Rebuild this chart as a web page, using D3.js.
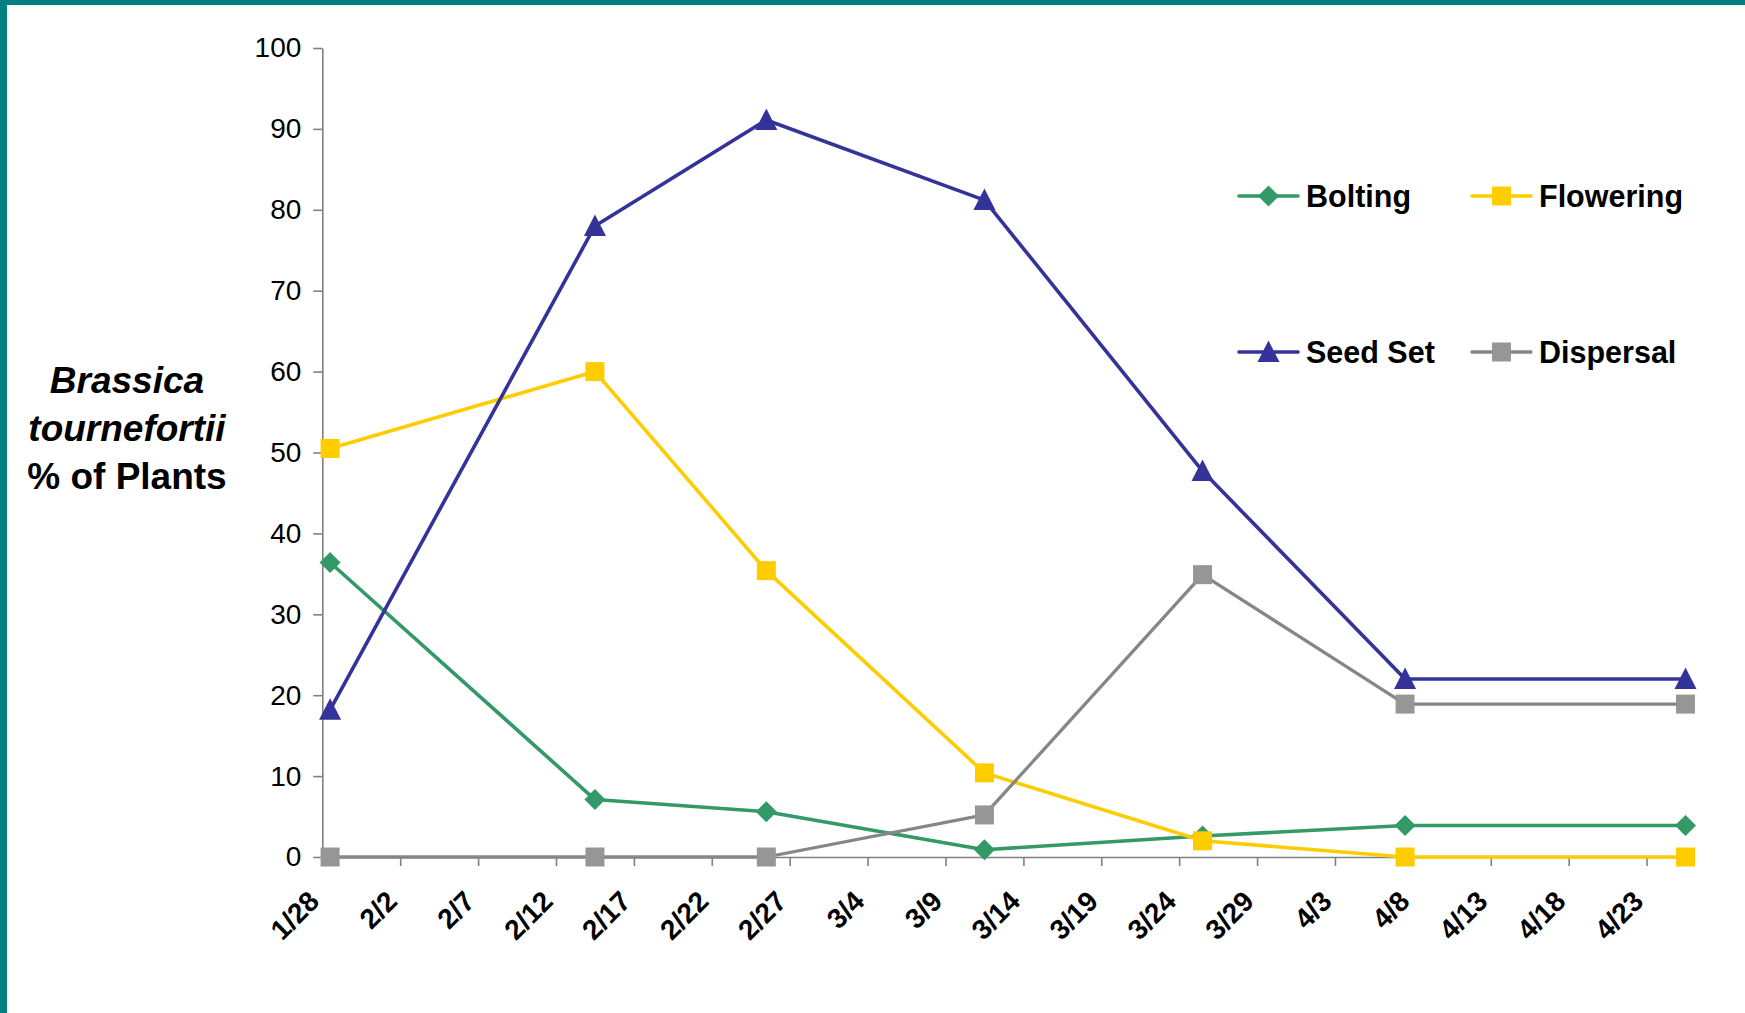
<!DOCTYPE html>
<html>
<head>
<meta charset="utf-8">
<script src="https://cdn.jsdelivr.net/npm/d3@7"></script>
<style>
  html, body { margin: 0; padding: 0; background: #fff; }
  svg { display: block; }
  text { font-family: "Liberation Sans", Arial, sans-serif; }
</style>
</head>
<body>
<svg id="chart" width="1745" height="1013"></svg>
<script>
// ---- data ----
const dates = ["2007-01-28", "2007-02-14", "2007-02-25", "2007-03-11", "2007-03-25", "2007-04-07", "2007-04-25"];
const bolting   = [36.4, 7.1, 5.6, 0.9, 2.6, 3.9, 3.9];
const flowering = [50.5, 60.0, 35.4, 10.4, 2.0, 0, 0];
const seedSet   = [18.2, 78.0, 91.1, 81.2, 47.7, 22.0, 22.0];
const dispersal = [0, 0, 0, 5.2, 34.9, 18.9, 18.9];
const seriesNames = ["Bolting", "Flowering", "Seed Set", "Dispersal"];
const yTicks = [0, 10, 20, 30, 40, 50, 60, 70, 80, 90, 100];
const xTickLabels = ["1/28", "2/2", "2/7", "2/12", "2/17", "2/22", "2/27", "3/4", "3/9", "3/14", "3/19", "3/24", "3/29", "4/3", "4/8", "4/13", "4/18", "4/23"];
const xDomain = ["2007-01-28", "2007-04-26"];
const yTitle = ["Brassica", "tournefortii", "% of Plants"];

(function () {
// ---- layout ----
const svg = d3.select("#chart");
const W = 1745, H = 1013;
const mLeft = 322.3, mRight = 1693.3, mTop = 48, mBottom = 857;
const parse = d3.utcParse("%Y-%m-%d");

svg.append("rect").attr("width", W).attr("height", H).attr("fill", "#fff");
// teal frame (top and left)
svg.append("rect").attr("x", 0).attr("y", 0).attr("width", W).attr("height", 5).attr("fill", "#008080");
svg.append("rect").attr("x", 0).attr("y", 0).attr("width", 7).attr("height", H).attr("fill", "#008080");

const x = d3.scaleUtc().domain(xDomain.map(parse)).range([mLeft, mRight]);
const y = d3.scaleLinear().domain([0, 100]).range([mBottom, mTop]);
const halfDay = 12 * 3600 * 1000;
const px = d => x(new Date(parse(d).getTime() + halfDay));

// axes
const axisColor = "#808080";
const yAxis = svg.append("g").attr("transform", `translate(${mLeft},0)`)
  .call(d3.axisLeft(y).tickValues(yTicks).tickSize(9).tickSizeOuter(0).tickPadding(12).tickFormat(d3.format("d")));
yAxis.selectAll("path, line").attr("stroke", axisColor).attr("stroke-width", 1.6);
yAxis.selectAll("text").attr("font-size", 28).attr("fill", "#000")
  .attr("font-family", "'Liberation Sans', Arial, sans-serif");

const tickDates = xTickLabels.map(s => { const [m, d] = s.split("/").map(Number); return new Date(Date.UTC(2007, m - 1, d)); });
const xAxis = svg.append("g").attr("transform", `translate(0,${mBottom})`)
  .call(d3.axisBottom(x).tickValues(tickDates).tickSize(9).tickSizeOuter(0)
    .tickFormat((d, i) => xTickLabels[i]));
xAxis.selectAll("path, line").attr("stroke", axisColor).attr("stroke-width", 1.6);
xAxis.selectAll("text")
  .attr("font-size", 28).attr("font-weight", "bold").attr("fill", "#000")
  .attr("font-family", "'Liberation Sans', Arial, sans-serif")
  .attr("text-anchor", "end").attr("x", 0).attr("y", 0).attr("dy", 0)
  .attr("transform", "translate(-2,46) rotate(-45)");

// y title
[393, 441, 489].forEach((by, i) => {
  svg.append("text").attr("x", 127).attr("y", by).attr("text-anchor", "middle")
    .attr("font-size", 37).attr("font-weight", "bold")
    .attr("font-style", i < 2 ? "italic" : "normal").attr("fill", "#000").text(yTitle[i]);
});

// series
const series = [
  { name: seriesNames[0], values: bolting,   line: "#339966", fill: "#339966", shape: "diamond", w: 3.6 },
  { name: seriesNames[1], values: flowering, line: "#FFCC00", fill: "#FFCC00", shape: "square",  w: 3.6 },
  { name: seriesNames[2], values: seedSet,   line: "#333399", fill: "#333399", shape: "triangle", w: 3.6 },
  { name: seriesNames[3], values: dispersal, line: "#868686", fill: "#969696", shape: "square",  w: 3.3 }
];

function marker(g, shape, cx, cy, fill) {
  if (shape === "square") {
    g.append("rect").attr("x", cx - 9.5).attr("y", cy - 9.5).attr("width", 19).attr("height", 19).attr("fill", fill);
  } else if (shape === "diamond") {
    const r = 10.5;
    g.append("path").attr("d", `M${cx},${cy - r}L${cx + r},${cy}L${cx},${cy + r}L${cx - r},${cy}Z`).attr("fill", fill);
  } else {
    g.append("path").attr("d", `M${cx},${cy - 11.5}L${cx + 11},${cy + 10}L${cx - 11},${cy + 10}Z`).attr("fill", fill);
  }
}

const line = d3.line().x((d, i) => px(dates[i])).y(d => y(d));
series.forEach(s => {
  const g = svg.append("g");
  g.append("path").attr("d", line(s.values)).attr("fill", "none").attr("stroke", s.line)
    .attr("stroke-width", s.w).attr("stroke-linejoin", "round");
  s.values.forEach((v, i) => marker(g, s.shape, px(dates[i]), y(v), s.fill));
});

// legend
const legendPos = [[1239, 196], [1472, 196], [1239, 352], [1472, 352]];
series.forEach((s, i) => {
  const [lx, ly] = legendPos[i];
  const g = svg.append("g");
  g.append("line").attr("x1", lx).attr("x2", lx + 59).attr("y1", ly).attr("y2", ly)
    .attr("stroke", s.line).attr("stroke-width", s.w).attr("stroke-linecap", "round");
  marker(g, s.shape, lx + 29.5, ly, s.fill);
  g.append("text").attr("x", lx + 67).attr("y", ly + 11).attr("font-size", 30.5).attr("font-weight", "bold")
    .attr("fill", "#000").text(s.name);
});
})();
</script>
</body>
</html>
